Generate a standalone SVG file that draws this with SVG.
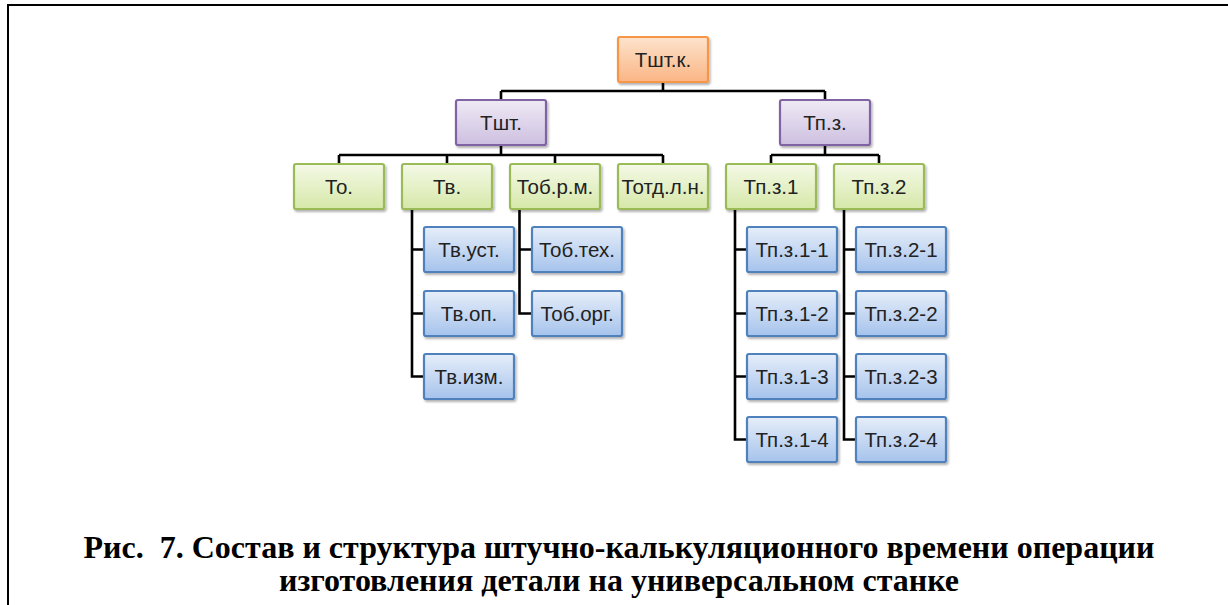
<svg xmlns="http://www.w3.org/2000/svg" width="1228" height="605" viewBox="0 0 1228 605">
<defs>
<linearGradient id="gOr" x1="0" y1="0" x2="0" y2="1"><stop offset="0" stop-color="#fde3cd"/><stop offset="1" stop-color="#fab584"/></linearGradient>
<linearGradient id="gPu" x1="0" y1="0" x2="0" y2="1"><stop offset="0" stop-color="#efeaf5"/><stop offset="1" stop-color="#cdbfe0"/></linearGradient>
<linearGradient id="gGr" x1="0" y1="0" x2="0" y2="1"><stop offset="0" stop-color="#f4f9e6"/><stop offset="1" stop-color="#d6e8a9"/></linearGradient>
<linearGradient id="gBl" x1="0" y1="0" x2="0" y2="1"><stop offset="0" stop-color="#e6eef9"/><stop offset="1" stop-color="#a6c3ec"/></linearGradient>
<filter id="sh" x="-10%" y="-10%" width="130%" height="140%"><feDropShadow dx="1.5" dy="2" stdDeviation="1.2" flood-color="#000" flood-opacity="0.3"/></filter>
<style>
.b rect{stroke-width:2.2;filter:url(#sh)}
.or rect{fill:url(#gOr);stroke:#f79646}
.pu rect{fill:url(#gPu);stroke:#8064a2}
.gr rect{fill:url(#gGr);stroke:#9bbb59}
.bl rect{fill:url(#gBl);stroke:#4f81bd}
.b text{font-family:"Liberation Sans",Arial,sans-serif;font-size:20.5px;fill:#222;text-anchor:middle}
.c{fill:none;stroke:#000;stroke-width:2.6}
.cap{font-family:"Liberation Serif","Times New Roman",serif;font-weight:bold;font-size:32px;fill:#000;text-anchor:middle}
</style>
</defs>
<rect width="1228" height="605" fill="#fff"/>
<line x1="8" y1="5" x2="1228" y2="5" stroke="#000" stroke-width="2"/>
<line x1="8" y1="4" x2="8" y2="605" stroke="#000" stroke-width="2"/>
<g id="connectors" class="c">
<path d="M663 82V91M501 91H825M501 91V100M825 91V100"/>
<path d="M501 145V155M339 155H663M339 155V164M447 155V164M555 155V164M663 155V164"/>
<path d="M825 145V155M771 155H879M771 155V164M879 155V164"/>
<path d="M412 209V376.5H424M412 249.5H424M412 313.5H424"/>
<path d="M519.5 209V313.5H532M519.5 249.5H532"/>
<path d="M735 209V439.5H747M735 249.5H747M735 313.5H747M735 376.5H747"/>
<path d="M844 209V439.5H856M844 249.5H856M844 313.5H856M844 376.5H856"/>
</g>
<g id="n_tshtk" class="b or"><rect x="618" y="37" width="90" height="45" rx="2"/><text x="663" y="67">Тшт.к.</text></g>
<g id="n_tsht" class="b pu"><rect x="456" y="100" width="90" height="45" rx="2"/><text x="501" y="130">Тшт.</text></g>
<g id="n_tpz" class="b pu"><rect x="780" y="100" width="90" height="45" rx="2"/><text x="825" y="130">Тп.з.</text></g>
<g id="n_to" class="b gr"><rect x="294" y="164" width="90" height="45" rx="2"/><text x="339" y="194">То.</text></g>
<g id="n_tv" class="b gr"><rect x="402" y="164" width="90" height="45" rx="2"/><text x="447" y="194">Тв.</text></g>
<g id="n_tobrm" class="b gr"><rect x="510" y="164" width="90" height="45" rx="2"/><text x="555" y="194">Тоб.р.м.</text></g>
<g id="n_totdln" class="b gr"><rect x="618" y="164" width="90" height="45" rx="2"/><text x="663" y="194">Тотд.л.н.</text></g>
<g id="n_tpz1" class="b gr"><rect x="726" y="164" width="90" height="45" rx="2"/><text x="771" y="194">Тп.з.1</text></g>
<g id="n_tpz2" class="b gr"><rect x="834" y="164" width="90" height="45" rx="2"/><text x="879" y="194">Тп.з.2</text></g>
<g id="n_tvust" class="b bl"><rect x="424" y="227" width="90" height="45" rx="2"/><text x="469" y="257">Тв.уст.</text></g>
<g id="n_tvop" class="b bl"><rect x="424" y="291" width="90" height="45" rx="2"/><text x="469" y="321">Тв.оп.</text></g>
<g id="n_tvizm" class="b bl"><rect x="424" y="354" width="90" height="45" rx="2"/><text x="469" y="384">Тв.изм.</text></g>
<g id="n_tobteh" class="b bl"><rect x="532" y="227" width="90" height="45" rx="2"/><text x="577" y="257">Тоб.тех.</text></g>
<g id="n_toborg" class="b bl"><rect x="532" y="291" width="90" height="45" rx="2"/><text x="577" y="321">Тоб.орг.</text></g>
<g id="n_tpz11" class="b bl"><rect x="747" y="227" width="90" height="45" rx="2"/><text x="792" y="257">Тп.з.1-1</text></g>
<g id="n_tpz12" class="b bl"><rect x="747" y="291" width="90" height="45" rx="2"/><text x="792" y="321">Тп.з.1-2</text></g>
<g id="n_tpz13" class="b bl"><rect x="747" y="354" width="90" height="45" rx="2"/><text x="792" y="384">Тп.з.1-3</text></g>
<g id="n_tpz14" class="b bl"><rect x="747" y="417" width="90" height="45" rx="2"/><text x="792" y="447">Тп.з.1-4</text></g>
<g id="n_tpz21" class="b bl"><rect x="856" y="227" width="90" height="45" rx="2"/><text x="901" y="257">Тп.з.2-1</text></g>
<g id="n_tpz22" class="b bl"><rect x="856" y="291" width="90" height="45" rx="2"/><text x="901" y="321">Тп.з.2-2</text></g>
<g id="n_tpz23" class="b bl"><rect x="856" y="354" width="90" height="45" rx="2"/><text x="901" y="384">Тп.з.2-3</text></g>
<g id="n_tpz24" class="b bl"><rect x="856" y="417" width="90" height="45" rx="2"/><text x="901" y="447">Тп.з.2-4</text></g>
<g id="caption">
<text class="cap" x="619" y="558" xml:space="preserve">Рис.  7. Состав и структура штучно-калькуляционного времени операции</text>
<text class="cap" x="619" y="591">изготовления детали на универсальном станке</text>
</g>
</svg>
